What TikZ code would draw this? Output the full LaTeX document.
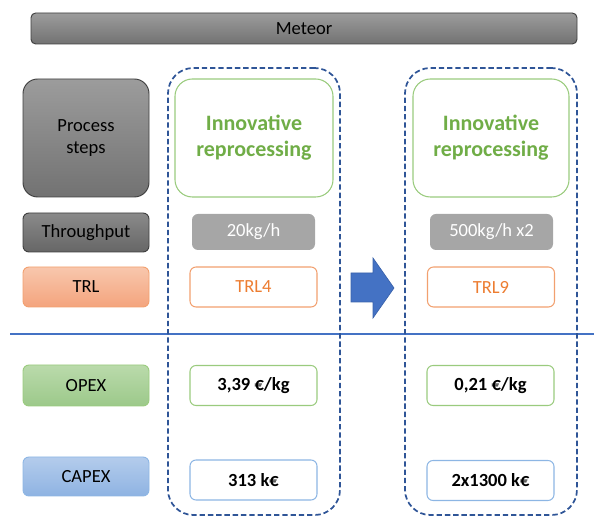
\documentclass[tikz,border=0pt]{standalone}
\usepackage{fontspec}
\setmainfont{Carlito}
\newcommand\pxu{0.75pt}
\definecolor{dashblue}{HTML}{2F5597}
\definecolor{lineblue}{HTML}{4472C4}
\definecolor{arrowedge}{HTML}{3A62AB}
\definecolor{darkedge}{HTML}{3F3F3F}
\definecolor{greytop}{HTML}{9C9C9C}
\definecolor{greybot}{HTML}{727272}
\definecolor{darktop}{HTML}{8A8A8A}
\definecolor{darkbot}{HTML}{666666}
\definecolor{salmontop}{HTML}{F8C7AD}
\definecolor{salmonbot}{HTML}{F4A47D}
\definecolor{salmonedge}{HTML}{F2A06F}
\definecolor{greentop}{HTML}{BADAAB}
\definecolor{greenbot}{HTML}{9CC98A}
\definecolor{greenedge}{HTML}{9ACB7E}
\definecolor{greentext}{HTML}{70AD47}
\definecolor{bluetop}{HTML}{B4CCEC}
\definecolor{bluebot}{HTML}{8EB3E2}
\definecolor{blueedge}{HTML}{8DB6E4}
\definecolor{valgrey}{HTML}{A6A6A6}
\definecolor{orangetext}{HTML}{ED7D31}
\begin{document}
\begin{tikzpicture}[x=0.75pt,y=-0.75pt,
  every node/.style={inner sep=0pt,outer sep=0pt,align=center,
    font=\fontsize{13.9}{17}\selectfont},
  labelbox/.style={rounded corners=4.5pt,minimum width=126*\pxu,line width=0.7pt},
  greyhead/.style={labelbox,draw=darkedge,top color=greytop,bottom color=greybot},
  darkhead/.style={labelbox,draw=darkedge,top color=darktop,bottom color=darkbot},
  trlhead/.style={labelbox,draw=salmonedge,top color=salmontop,bottom color=salmonbot},
  opexhead/.style={labelbox,draw=greenedge,top color=greentop,bottom color=greenbot},
  capexhead/.style={labelbox,draw=blueedge,top color=bluetop,bottom color=bluebot},
  column/.style={draw=dashblue,line width=1.3pt,dash pattern=on 4pt off 2.2pt,
    rounded corners=19pt,minimum width=172*\pxu,minimum height=447*\pxu},
  stepbox/.style={draw=greenedge,line width=0.8pt,rounded corners=13pt,
    minimum height=118*\pxu,text=greentext,
    font=\fontsize{16.5}{19.5}\selectfont\bfseries},
  ratebox/.style={fill=valgrey,rounded corners=4.5pt,minimum width=123*\pxu,
    minimum height=36*\pxu,text=white},
  valbox/.style={fill=white,line width=0.8pt,rounded corners=4.5pt,
    minimum width=127*\pxu,minimum height=40*\pxu},
  trlval/.style={valbox,draw=salmonedge,text=orangetext},
  opexval/.style={valbox,draw=greenedge,font=\fontsize{13.9}{17}\selectfont\bfseries},
  capexval/.style={valbox,draw=blueedge,font=\fontsize{13.9}{17}\selectfont\bfseries}
]
\useasboundingbox (0,0) rectangle (594,516);

% title bar
\node[draw=darkedge,line width=0.7pt,rounded corners=3.5pt,top color=greytop,bottom color=greybot,
  minimum width=546*\pxu,minimum height=31*\pxu] (meteor) at (304,28.5) {Meteor};

% row labels
\node[greyhead,rounded corners=11pt,minimum height=118*\pxu] (process) at (86,138) {Process\\steps};
\node[darkhead,minimum height=39*\pxu] (throughput) at (86,232.5) {Throughput};
\node[trlhead,minimum height=40*\pxu] (trl) at (86,287) {TRL};
\node[opexhead,minimum height=41*\pxu] (opex) at (86,385.5) {OPEX};
\node[capexhead,minimum height=39*\pxu] (capex) at (86,476.5) {CAPEX};

% separator between technical and economic rows
\coordinate (sepL) at (10,334);
\coordinate (sepR) at (594,334);
\draw[lineblue,line width=0.8pt] (sepL) -- (sepR);

% first column
\node[column] (colA) at (254,291.5) {};
\node[stepbox,minimum width=158*\pxu] (stepA) at (254,138) {Innovative\\reprocessing};
\node[ratebox] (rateA) at (253.5,232) {20kg/h};
\node[trlval] (trlA) at (253.5,287) {TRL4};
\node[opexval] (opexA) at (253.5,385.5) {3,39 €/kg};
\node[capexval] (capexA) at (253.5,480) {313 k€};

% second column
\node[column] (colB) at (491,291.5) {};
\node[stepbox,minimum width=156*\pxu] (stepB) at (491,138) {Innovative\\reprocessing};
\node[ratebox] (rateB) at (491.5,232) {500kg/h x2};
\node[trlval] (trlB) at (491,287) {TRL9};
\node[opexval] (opexB) at (490.5,385.5) {0,21 €/kg};
\node[capexval] (capexB) at (490.5,480.5) {2x1300 k€};

% block arrow between the two columns
\filldraw[fill=lineblue,draw=arrowedge,line width=0.5pt]
  (351,273) -- (373,273) -- (373,258) -- (394,288) -- (373,318) -- (373,302) -- (351,302) -- cycle;
\end{tikzpicture}
\end{document}
